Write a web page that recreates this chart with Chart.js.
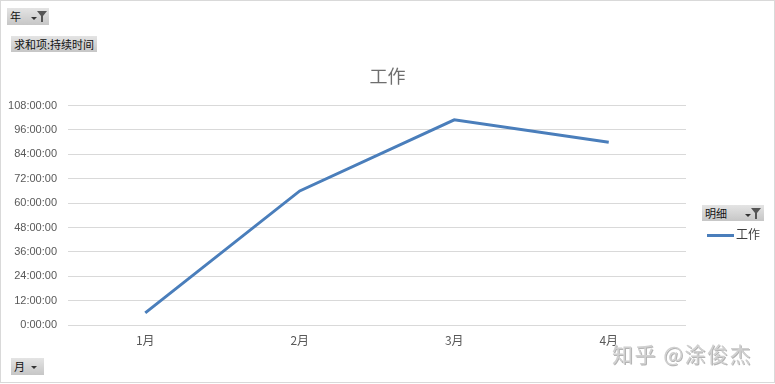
<!DOCTYPE html>
<html lang="zh-CN">
<head>
  <meta charset="UTF-8">
  <title>工作</title>
  <style>
    html, body {
      margin: 0;
      padding: 0;
      background: #fff;
    }
    #frame {
      position: relative;
      width: 773px;
      height: 381px;
      border: 1px solid #d9d9d9;
      overflow: hidden;
      font-family: "Noto Sans CJK SC", "DejaVu Sans", sans-serif;
    }
    #chartWrapper {
      position: absolute;
      left: -1px;
      top: -1px;
      width: 775px;
      height: 384px;
    }
    .fieldBtn {
      position: absolute;
      box-sizing: border-box;
      background: linear-gradient(#e4e4e4, #c6c6c6);
      color: #111;
      font-size: 11px;
      line-height: 16px;
      padding-left: 3px;
      white-space: nowrap;
    }
    .fieldBtn svg {
      position: absolute;
      top: 0;
    }
    #legend {
      position: absolute;
      left: 706px;
      top: 224px;
      font-size: 12px;
      color: #404040;
    }
    #legend span.swatch {
      display: inline-block;
      width: 27px;
      height: 3px;
      background: #4a7ebb;
      vertical-align: middle;
      margin-right: 2px;
    }
    #watermark {
      position: absolute;
      left: 611px;
      top: 337px;
      font-size: 21px;
      color: #d0d0d0;
      text-shadow: 1px 1px 0 #b4b4b4;
      letter-spacing: 1.5px;
    }
  </style>
</head>
<body>
  <div id="frame">
    <div id="chartWrapper">
      <canvas id="workChart"></canvas>
    </div>

    <div class="fieldBtn" style="left:6px; top:7px; width:42px; height:17px;">年
      <svg width="20" height="17" style="left:21px">
        <path d="M3 9 L9 9 L6 12 Z" fill="#333"/>
        <path d="M9 3 L19 3 L15 8 L15 14 L13 14 L13 8 Z" fill="#555"/>
      </svg>
    </div>
    <div class="fieldBtn" style="left:10px; top:35px; width:86px; height:16px;">求和项:持续时间</div>
    <div class="fieldBtn" style="left:701px; top:204px; width:62px; height:16px;">明细
      <svg width="22" height="16" style="left:39px">
        <path d="M4 9 L10 9 L7 12 Z" fill="#333"/>
        <path d="M10 3 L20 3 L16 8 L16 14 L14 14 L14 8 Z" fill="#555"/>
      </svg>
    </div>
    <div class="fieldBtn" style="left:10px; top:357px; width:33px; height:17px;">月
      <svg width="14" height="17" style="left:17px">
        <path d="M3 8 L9 8 L6 11 Z" fill="#333"/>
      </svg>
    </div>

    <div id="legend"><span class="swatch"></span>工作</div>
    <div id="watermark">知乎 @涂俊杰</div>
  </div>

  <script src="https://cdn.jsdelivr.net/npm/chart.js/dist/chart.umd.min.js"></script>
  <script>
    // data (hours)
    const months = ['1月', '2月', '3月', '4月'];
    const workHours = [6, 66, 101, 90];
    const seriesName = '工作';
    const yMax = 108;
    const yStep = 12;

    const labelColor = '#595959';
    const gridColor = '#d9d9d9';
    const lineColor = '#4a7ebb';

    const ctx = document.getElementById('workChart').getContext('2d');
    new Chart(ctx, {
      type: 'line',
      data: {
        labels: months,
        datasets: [{
          label: seriesName,
          data: workHours,
          borderColor: lineColor,
          backgroundColor: lineColor,
          borderWidth: 3,
          pointRadius: 0,
          tension: 0
        }]
      },
      options: {
        responsive: true,
        maintainAspectRatio: false,
        animation: false,
        layout: {
          padding: { left: 0, right: 0, top: 65, bottom: 0 }
        },
        plugins: {
          legend: { display: false },
          tooltip: { enabled: false },
          title: {
            display: true,
            text: seriesName,
            color: '#6e6e6e',
            font: { family: '"Noto Sans CJK SC", sans-serif', size: 18, weight: 'normal' },
            padding: { top: 0, bottom: 19 }
          }
        },
        scales: {
          x: {
            offset: true,
            grid: { display: false, drawTicks: false },
            border: { display: false },
            ticks: {
              color: labelColor,
              font: { family: '"Noto Sans CJK SC", sans-serif', size: 12 },
              padding: 8
            },
            afterFit: scale => { scale.height = 59; }
          },
          y: {
            min: 0,
            max: yMax,
            grid: { color: gridColor, drawTicks: false },
            border: { display: false },
            ticks: {
              stepSize: yStep,
              color: labelColor,
              font: { family: '"Liberation Sans", "DejaVu Sans", sans-serif', size: 11 },
              padding: 11,
              callback: v => v + ':00:00'
            },
            afterFit: scale => { scale.width = 68; }
          },
          // empty right-hand axis reserves the legend column so the title centres on the whole chart
          yRight: {
            position: 'right',
            grid: { display: false },
            border: { display: false },
            ticks: { display: false },
            afterFit: scale => { scale.width = 89; }
          }
        }
      }
    });
  </script>
</body>
</html>
